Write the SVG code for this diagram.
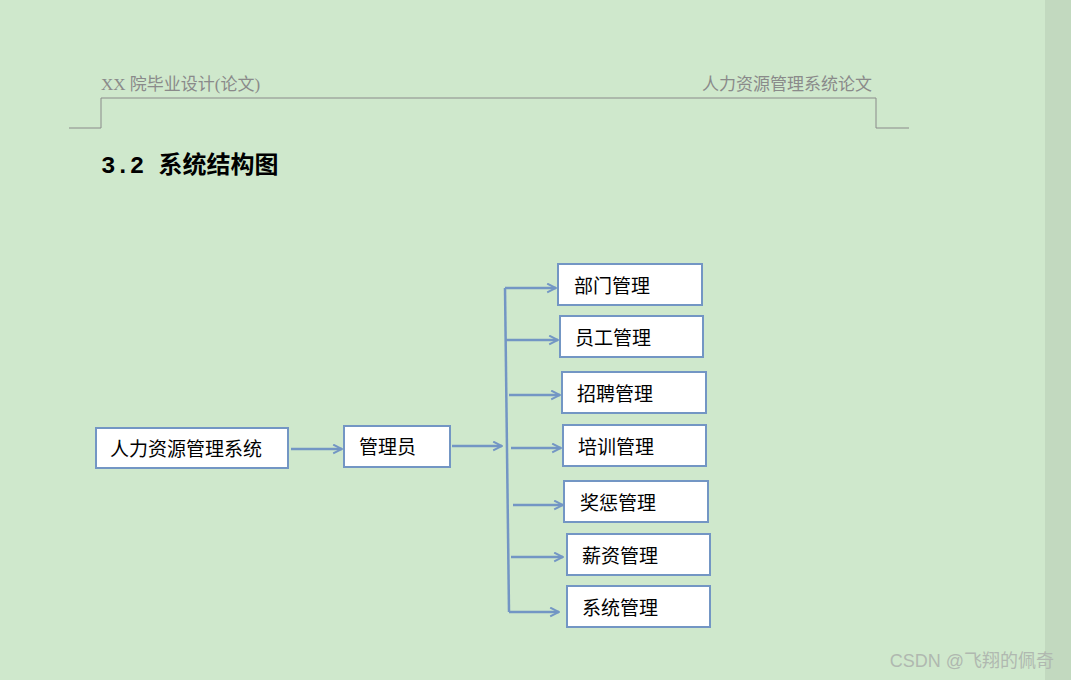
<svg xmlns="http://www.w3.org/2000/svg" width="1071" height="680" viewBox="0 0 1071 680">
<defs>
<style>
.box{fill:#fff;stroke:#7396c4;stroke-width:2}
.t{font-family:"Liberation Serif","Noto Sans CJK SC",serif;font-size:19px;fill:#000}
.ln{stroke:#7396c4;stroke-width:2.5;fill:none}
.hd{font-family:"Liberation Serif","Noto Sans CJK SC",serif;font-size:17px;fill:#8a8a8a}
</style>
<marker id="a" viewBox="0 0 10 10" refX="9" refY="5" markerWidth="11" markerHeight="11" orient="auto" markerUnits="userSpaceOnUse"><path d="M1,1 L9,5 L1,9" fill="none" stroke="#7396c4" stroke-width="1.8"/></marker>
</defs>
<rect width="1071" height="680" fill="#cfe8cc"/>
<rect x="1045" y="0" width="26" height="680" fill="#c2d9bf"/>
<text class="hd" x="101" y="90">XX 院毕业设计(论文)</text>
<text class="hd" x="872" y="90" text-anchor="end">人力资源管理系统论文</text>
<path d="M101,98 H876 M101,98 V128 H69 M876,98 V128 H909" stroke="#8a8a8a" stroke-width="1" fill="none"/>
<text x="101" y="173" font-size="24" font-weight="bold"><tspan font-family="Liberation Mono,monospace">3.2 </tspan><tspan font-family="Noto Sans CJK SC,sans-serif">系统结构图</tspan></text>
<g id="root"><rect class="box" x="96" y="428" width="192" height="40"/><text class="t" x="110" y="456">人力资源管理系统</text></g>
<g id="admin"><rect class="box" x="344" y="426" width="106" height="41"/><text class="t" x="359" y="454">管理员</text></g>
<g id="n1"><rect class="box" x="558" y="264" width="144" height="41"/><text class="t" x="574" y="293">部门管理</text></g>
<g id="n2"><rect class="box" x="560" y="316" width="143" height="41"/><text class="t" x="575" y="345">员工管理</text></g>
<g id="n3"><rect class="box" x="562" y="372" width="144" height="41"/><text class="t" x="577" y="401">招聘管理</text></g>
<g id="n4"><rect class="box" x="563" y="425" width="143" height="41"/><text class="t" x="578" y="454">培训管理</text></g>
<g id="n5"><rect class="box" x="564" y="481" width="144" height="41"/><text class="t" x="580" y="510">奖惩管理</text></g>
<g id="n6"><rect class="box" x="567" y="534" width="143" height="41"/><text class="t" x="582" y="563">薪资管理</text></g>
<g id="n7"><rect class="box" x="567" y="586" width="143" height="41"/><text class="t" x="582" y="615">系统管理</text></g>
<g id="connectors">
<path class="ln" d="M291,449 H342" marker-end="url(#a)"/>
<path class="ln" d="M452,446 H502" marker-end="url(#a)"/>
<path class="ln" d="M505,288 L509,612"/>
<path class="ln" d="M505,288 H556" marker-end="url(#a)"/>
<path class="ln" d="M506,340 H558" marker-end="url(#a)"/>
<path class="ln" d="M509,395 H560" marker-end="url(#a)"/>
<path class="ln" d="M511,448 H561" marker-end="url(#a)"/>
<path class="ln" d="M513,505 H563" marker-end="url(#a)"/>
<path class="ln" d="M511,557 H563" marker-end="url(#a)"/>
<path class="ln" d="M509,612 H559" marker-end="url(#a)"/>
</g>
<text x="1054" y="667" text-anchor="end" font-family="Liberation Sans,'Noto Sans CJK SC',sans-serif" font-size="18" fill="#b0b8b0">CSDN @飞翔的佩奇</text>
</svg>
